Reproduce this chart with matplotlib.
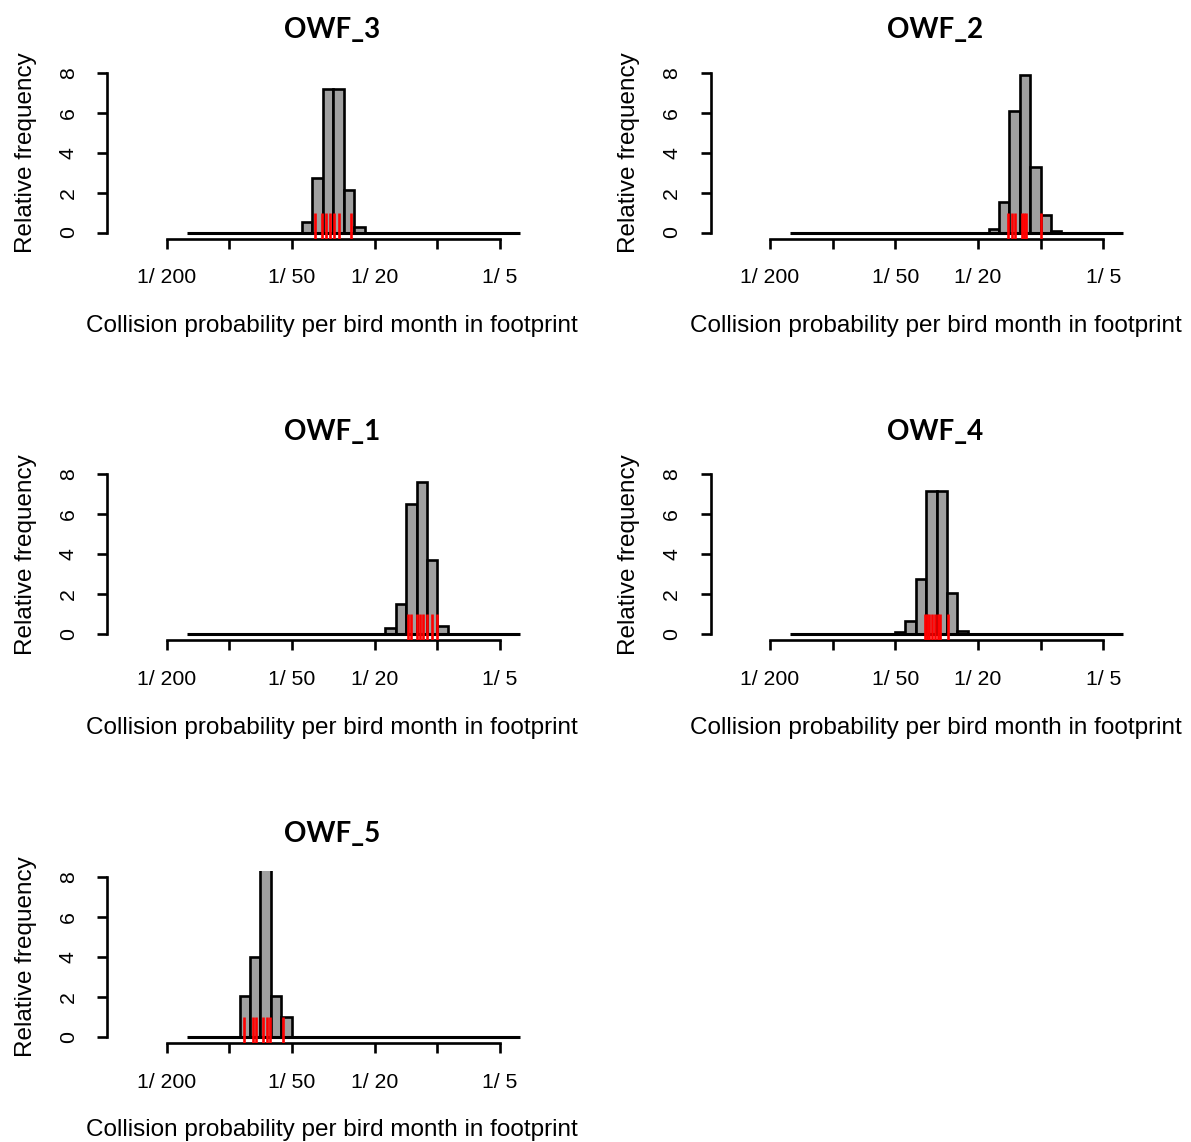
import numpy as np
import matplotlib
matplotlib.use("Agg")
import matplotlib.pyplot as plt
from matplotlib.ticker import FixedLocator, FixedFormatter, NullLocator

plt.rcParams['font.family'] = ['Liberation Sans', 'DejaVu Sans']

# ---------------- data (x values are log10 of collision probability) ----------------
titles = ["OWF_3", "OWF_2", "OWF_1", "OWF_4", "OWF_5"]
bin_width_log10 = 0.05

owf3_bin_start = -1.65
owf3_density = [0.55, 2.75, 7.2, 7.2, 2.15, 0.3]
owf3_months = [-1.588, -1.552, -1.535, -1.516, -1.499, -1.471, -1.415]

owf2_bin_start = -1.25
owf2_density = [0.2, 1.55, 6.1, 7.9, 3.3, 0.9, 0.08]
owf2_months = [-1.155, -1.14, -1.125, -1.09, -1.08, -1.072, -1.0]

owf1_bin_start = -1.25
owf1_density = [0.3, 1.5, 6.5, 7.6, 3.7, 0.4]
owf1_months = [-1.140, -1.128, -1.100, -1.084, -1.068, -1.049, -1.028, -1.004]

owf4_bin_start = -1.70
owf4_density = [0.1, 0.65, 2.75, 7.15, 7.15, 2.05, 0.15]
owf4_months = [-1.555, -1.545, -1.537, -1.52, -1.51, -1.495, -1.482, -1.445]

owf5_bin_start = -1.95
owf5_density = [2.05, 4.0, 10.8, 2.05, 1.0]
owf5_months = [-1.930, -1.888, -1.872, -1.837, -1.819, -1.805, -1.741]

bin_starts = [owf3_bin_start, owf2_bin_start, owf1_bin_start, owf4_bin_start, owf5_bin_start]
densities = [owf3_density, owf2_density, owf1_density, owf4_density, owf5_density]
months = [owf3_months, owf2_months, owf1_months, owf4_months, owf5_months]

baseline_range = [1 / 160, 1 / 4]
tick_denoms = [200, 100, 50, 20, 10, 5]
labelled_denoms = [200, 50, 20, 5]
y_ticks = [0, 2, 4, 6, 8]
xlabel = "Collision probability per bird month in footprint"
ylabel = "Relative frequency"

# ---------------- layout ----------------
W, H = 1191, 1142
fig = plt.figure(figsize=(W / 100, H / 100), dpi=100)
col_left = [107.3, 710.6]
ax_w = 449.7
row_top = [66.6, 468.1, 870.8]
ax_h = 172.3
positions = [(0, 0), (0, 1), (1, 0), (1, 1), (2, 0)]

bar_color = "#a0a0a0"
lw = 1.9

for i, (r, c) in enumerate(positions):
    l = col_left[c]
    t = row_top[r]
    ax = fig.add_axes([l / W, 1 - (t + ax_h) / H, ax_w / W, ax_h / H])
    ax.set_xscale("log")
    ax.set_xlim(10 ** -2.586, 10 ** -0.425)
    ax.set_ylim(-0.32, 8.32)

    dens = np.array(densities[i])
    lo = bin_starts[i] + bin_width_log10 * np.arange(len(dens))
    hi = lo + bin_width_log10
    ax.bar(10 ** lo, dens, width=10 ** hi - 10 ** lo, align="edge",
           color=bar_color, edgecolor="black", linewidth=lw, zorder=2)
    ax.plot(baseline_range, [0, 0], color="black", lw=lw + 0.3, zorder=3,
            solid_capstyle="butt")
    ax.vlines(10 ** np.array(months[i]), -0.32, 1.0, color="#ff0000", lw=1.9, zorder=4)

    for s in ["top", "right"]:
        ax.spines[s].set_visible(False)
    ax.spines["left"].set_bounds(0, 8)
    ax.spines["bottom"].set_bounds(1 / 200, 1 / 5)
    for s in ["left", "bottom"]:
        ax.spines[s].set_linewidth(lw)

    ax.xaxis.set_major_locator(FixedLocator([1 / d for d in tick_denoms]))
    ax.xaxis.set_major_formatter(FixedFormatter(
        [f"1/ {d}" if d in labelled_denoms else "" for d in tick_denoms]))
    ax.xaxis.set_minor_locator(NullLocator())
    ax.set_yticks(y_ticks)
    ax.set_yticklabels([str(v) for v in y_ticks])

    ax.tick_params(axis="both", direction="out", length=7.2, width=lw,
                   labelsize=15.3, colors="black")
    ax.tick_params(axis="x", pad=14)
    ax.tick_params(axis="y", pad=14, labelrotation=90)
    for lab in ax.get_yticklabels():
        lab.set_va("center")

    ax.set_xlabel(xlabel, fontsize=17.5, labelpad=20)
    ax.set_ylabel(ylabel, fontsize=17.5, labelpad=16)
    ax.set_title(titles[i], fontsize=20, fontweight="bold", family=["Lato", "DejaVu Sans"], pad=20.5)

fig.savefig("out.png", dpi=100)
